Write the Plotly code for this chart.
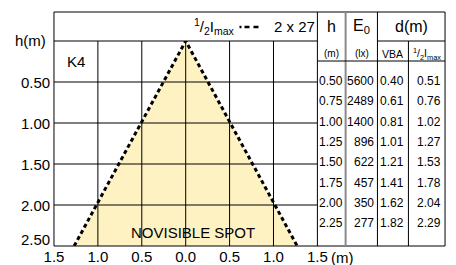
import plotly.graph_objects as go

# ---------------- data ----------------
x_tick_vals = [-1.5, -1.0, -0.5, 0.0, 0.5, 1.0, 1.5]
x_tick_text = ["1.5", "1.0", "0.5", "0.0", "0.5", "1.0", "1.5"]
x_grid = [-1.0, -0.5, 0.0, 0.5, 1.0]
y_tick_vals = [0.0, 0.5, 1.0, 1.5, 2.0, 2.5]
y_tick_text = ["h(m)", "0.50", "1.00", "1.50", "2.00", "2.50"]
y_grid = [0.5, 1.0, 1.5, 2.0]

# half-intensity cone: apex and base
cone_h = [0.0, 2.5]
cone_half_width = [0.0, 1.27]

table_h = [0.50, 0.75, 1.00, 1.25, 1.50, 1.75, 2.00, 2.25]
table_E0 = [5600, 2489, 1400, 896, 622, 457, 350, 277]
table_vba = [0.40, 0.61, 0.81, 1.01, 1.21, 1.41, 1.62, 1.82]
table_half = [0.51, 0.76, 1.02, 1.27, 1.53, 1.78, 2.04, 2.29]

legend_label = "2 x 27"
model_label = "K4"
spot_label = "NOVISIBLE SPOT"

# ---------------- layout helpers ----------------
W, H = 456, 265
FONT = "Liberation Sans, Arial, sans-serif"


def X(px):
    return px / W


def Y(py):
    return 1 - py / H


PL, PR, PT, PB = 46, 321.5, 41, 246  # plot area in pixels
TOP = 12
RIGHT = 455
FILL = "#FFF2C2"

fig = go.Figure()

# cone fill
cx = [-cone_half_width[1], cone_half_width[0], cone_half_width[1]]
cy = [cone_h[1], cone_h[0], cone_h[1]]
fig.add_trace(go.Scatter(x=cx, y=cy, fill="toself", fillcolor=FILL,
                         mode="none", hoverinfo="skip", showlegend=False))

shapes = []
# gridlines above the fill
for gx in x_grid:
    shapes.append(dict(type="line", xref="x", yref="y", x0=gx, x1=gx,
                       y0=y_tick_vals[0], y1=y_tick_vals[-1],
                       line=dict(color="black", width=1), layer="above"))
for gy in y_grid:
    shapes.append(dict(type="line", xref="x", yref="y", x0=x_tick_vals[0],
                       x1=x_tick_vals[-1], y0=gy, y1=gy,
                       line=dict(color="black", width=1), layer="above"))

# cone edges (dotted)
fig.add_trace(go.Scatter(x=cx, y=cy, mode="lines",
                         line=dict(color="black", width=3, dash="4px,3px"),
                         hoverinfo="skip", showlegend=False, cliponaxis=False))


def pline(x0, y0, x1, y1, color="black", width=1):
    shapes.append(dict(type="line", xref="paper", yref="paper",
                       x0=X(x0), y0=Y(y0), x1=X(x1), y1=Y(y1),
                       line=dict(color=color, width=width), layer="above"))


# frame
pline(PL, TOP, RIGHT, TOP)
pline(PL, PB, RIGHT, PB)
pline(PL, TOP, PL, PB)
pline(RIGHT, TOP, RIGHT, PB)
pline(PL, PT, PR, PT)
# table lines
pline(PR, TOP, PR, PB)
pline(351, TOP, 351, PB, color="#8a8a8a", width=2)
pline(384.3, TOP, 384.3, PB)
pline(416.7, PT, 416.7, PB)
pline(384.3, PT, RIGHT, PT)
pline(PR, 61, RIGHT, 61)

# legend sample
shapes.append(dict(type="line", xref="paper", yref="paper",
                   x0=X(240), x1=X(262), y0=Y(27), y1=Y(27),
                   line=dict(color="black", width=2.5,
                             dash="2px,3px,5px,4px,5px,20px")))

ann = []


def text(px, py, s, size=15, anchor="center", **kw):
    ann.append(dict(xref="paper", yref="paper", x=X(px), y=Y(py), text=s,
                    showarrow=False, xanchor=anchor, yanchor="middle",
                    font=dict(family=FONT, size=size, color="black"), **kw))


# y-axis labels
for v, t in zip(y_tick_vals, y_tick_text):
    shift = 0
    xs = 0
    if v == y_tick_vals[-1]:
        shift = 7
    if v == y_tick_vals[0]:
        xs = -4
    ann.append(dict(xref="paper", yref="y", x=X(44), y=v, text=t,
                    showarrow=False, xanchor="right", yanchor="middle",
                    yshift=shift, xshift=xs,
                    font=dict(family=FONT, size=15, color="black")))

# x unit
text(334, 257, "(m)", anchor="left")

# legend
half = "<sup>1</sup>/<sub>2</sub>I<sub>max</sub>"
text(237, 27, half, anchor="right")
text(274, 27, legend_label, anchor="left")

# in-chart labels
text(69, 62, model_label)
text(191, 232, spot_label)

# table header
text(336.5, 27, "h", size=16)
text(368, 27, "E<sub>0</sub>", size=16)
text(420, 27, "d(m)", size=16)
text(336.5, 54, "(m)", size=10)
text(368, 54, "(lx)", size=10)
text(400.5, 54, "VBA", size=10.5)
text(436, 54, half, size=10.5)

# table rows
for i, (h, e, v, d) in enumerate(zip(table_h, table_E0, table_vba, table_half)):
    py = 81 + i * 20.33
    text(350.5, py, f"{h:.2f}", size=12, anchor="right")
    text(382.5, py, f"{e}", size=12, anchor="right")
    text(414.5, py, f"{v:.2f}", size=12, anchor="right")
    text(453, py, f"{d:.2f}", size=12, anchor="right")

fig.update_layout(
    width=W, height=H,
    margin=dict(l=0, r=0, t=0, b=0),
    paper_bgcolor="white", plot_bgcolor="white",
    shapes=shapes, annotations=ann,
    xaxis=dict(domain=[X(PL), X(PR)], range=[x_tick_vals[0], x_tick_vals[-1]],
               tickvals=x_tick_vals, ticktext=x_tick_text,
               tickfont=dict(family=FONT, size=15, color="black"),
               showgrid=False, zeroline=False, showline=False, ticks=""),
    yaxis=dict(domain=[Y(PB), Y(PT)], range=[y_tick_vals[-1], y_tick_vals[0]],
               showticklabels=False, showgrid=False, zeroline=False,
               showline=False, ticks=""),
    font=dict(family=FONT, color="black"),
)

fig.write_html("out.html",
               config={"displayModeBar": False},
               post_script="document.body.style.margin='0px';"
                           "document.body.style.overflow='hidden';")
